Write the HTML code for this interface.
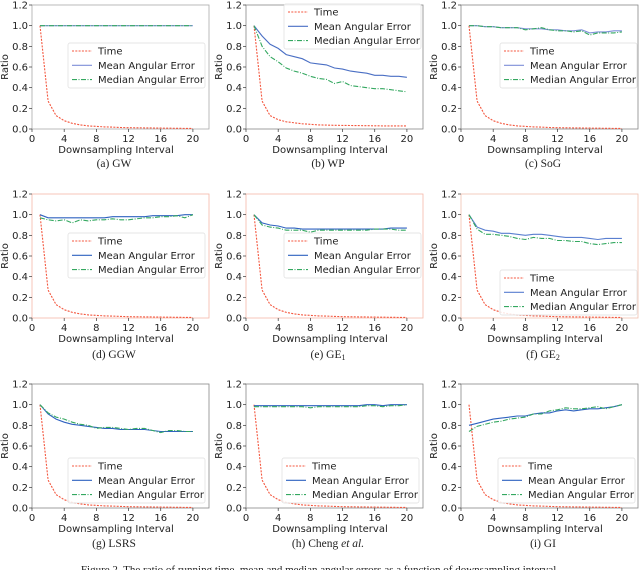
<!DOCTYPE html>
<html><head><meta charset="utf-8">
<style>
html,body{margin:0;padding:0;background:#fff;}
svg{display:block;}
text{font-family:"DejaVu Sans","Liberation Sans",sans-serif;}
.cap{font-family:"Liberation Serif",serif;}
</style></head>
<body>
<svg id="fig" width="640" height="570" viewBox="0 0 640 570" xmlns="http://www.w3.org/2000/svg"></svg>
<script>
const xs = [1,2,3,4,5,6,7,8,9,10,11,12,13,14,15,16,17,18,19,20];
const xTicks = [0,4,8,12,16,20];
const yTicks = [0.0,0.2,0.4,0.6,0.8,1.0,1.2];
const legendLabels = ["Time","Mean Angular Error","Median Angular Error"];
const panelNames = ["GW","WP","SoG","GGW","GE1","GE2","LSRS","Cheng","GI"];
const timeA = [1,0.27,0.13,0.08,0.055,0.04,0.03,0.025,0.02,0.018,0.015,0.013,0.012,0.011,0.01,0.009,0.008,0.007,0.006,0.005];
const timeB = [1,0.27,0.13,0.09,0.07,0.06,0.05,0.045,0.04,0.038,0.036,0.035,0.034,0.033,0.032,0.031,0.03,0.03,0.03,0.03];
const meanA = [1,1,1,1,1,1,1,1,1,1,1,1,1,1,1,1,1,1,1,1];
const medA  = [1,1,1,1,1,1,1,1,1,1,1,1,1,1,1,1,1,1,1,1];
const meanB = [1,0.9,0.82,0.78,0.72,0.7,0.68,0.64,0.63,0.62,0.59,0.58,0.56,0.55,0.54,0.52,0.52,0.51,0.51,0.5];
const medB  = [1,0.8,0.7,0.65,0.59,0.56,0.54,0.51,0.49,0.48,0.44,0.46,0.42,0.41,0.4,0.39,0.39,0.38,0.37,0.36];
const meanC = [1,1,0.99,0.99,0.98,0.98,0.98,0.97,0.97,0.97,0.96,0.96,0.95,0.95,0.96,0.93,0.94,0.94,0.95,0.95];
const medC  = [1,1,0.99,0.99,0.98,0.98,0.98,0.96,0.97,0.98,0.96,0.95,0.95,0.94,0.95,0.91,0.93,0.93,0.93,0.94];
const meanD = [1,0.97,0.97,0.97,0.97,0.97,0.97,0.97,0.97,0.98,0.98,0.98,0.98,0.98,0.99,0.99,0.99,0.99,1,1];
const medD  = [0.97,0.95,0.94,0.95,0.92,0.95,0.94,0.95,0.95,0.96,0.95,0.95,0.96,0.97,0.97,0.98,0.98,0.99,0.97,1];
const meanE = [1,0.92,0.9,0.89,0.87,0.87,0.86,0.86,0.86,0.86,0.86,0.86,0.86,0.86,0.86,0.86,0.86,0.87,0.87,0.87];
const medE  = [1,0.9,0.88,0.87,0.85,0.85,0.85,0.83,0.85,0.85,0.85,0.85,0.85,0.85,0.85,0.86,0.86,0.86,0.85,0.85];
const meanF = [1,0.88,0.85,0.84,0.82,0.82,0.81,0.8,0.81,0.81,0.8,0.79,0.78,0.78,0.78,0.77,0.76,0.77,0.77,0.77];
const medF  = [1,0.86,0.81,0.81,0.8,0.79,0.77,0.76,0.78,0.77,0.77,0.75,0.75,0.74,0.74,0.72,0.71,0.72,0.73,0.73];
const meanG = [1,0.91,0.86,0.83,0.81,0.8,0.79,0.78,0.77,0.77,0.76,0.76,0.76,0.76,0.75,0.74,0.74,0.74,0.74,0.74];
const medG  = [1,0.92,0.88,0.86,0.83,0.81,0.8,0.77,0.78,0.78,0.77,0.76,0.77,0.77,0.75,0.73,0.75,0.75,0.74,0.74];
const meanH = [0.99,0.99,0.99,0.99,0.99,0.99,0.99,0.99,0.99,0.99,0.99,0.99,0.99,0.99,1,1,0.99,1,1,1];
const medH  = [0.98,0.98,0.98,0.98,0.98,0.98,0.98,0.97,0.98,0.98,0.98,0.98,0.98,0.98,0.99,0.99,0.98,0.99,0.99,1];
const meanI = [0.8,0.82,0.84,0.86,0.87,0.88,0.89,0.89,0.91,0.92,0.92,0.94,0.95,0.94,0.95,0.96,0.96,0.97,0.98,1];
const medI  = [0.74,0.79,0.81,0.83,0.84,0.86,0.87,0.88,0.91,0.91,0.94,0.95,0.97,0.96,0.96,0.97,0.98,0.96,0.98,1];

const NS = "http://www.w3.org/2000/svg";
const svg = document.getElementById("fig");
function mk(tag, attrs, parent){ const e=document.createElementNS(NS,tag); for(const k in attrs) e.setAttribute(k,attrs[k]); (parent||svg).appendChild(e); return e; }

const cols=[32,246,461], rows=[5,194,384], W=177, H=124;
const capYs=[167,358,547];
const panels = [
 {t:timeA,m:meanA,d:medA,cap:"(a)  GW",leg:[68,43],frame:"#aaa",blue:"#7f8fd8"},
 {t:timeB,m:meanB,d:medB,cap:"(b)  WP",leg:[284,4],frame:"#888",blue:"#4a6fc4"},
 {t:timeA,m:meanC,d:medC,cap:"(c)  SoG",leg:[500,43],frame:"#888",blue:"#7f8fd8"},
 {t:timeA,m:meanD,d:medD,cap:"(d)  GGW",leg:[68,233],frame:"#f5b8a8",blue:"#2f62c0"},
 {t:timeA,m:meanE,d:medE,cap:"(e)  GE",sub:"1",leg:[284,233],frame:"#f5b8a8",blue:"#2f62c0"},
 {t:timeA,m:meanF,d:medF,cap:"(f)  GE",sub:"2",leg:[500,270],frame:"#f0c0b0",blue:"#5a7fd0"},
 {t:timeA,m:meanG,d:medG,cap:"(g)  LSRS",leg:[68,458],frame:"#888",blue:"#2f62c0"},
 {t:timeA,m:meanH,d:medH,cap:"(h)  Cheng ",it:"et al.",leg:[282,458],frame:"#888",blue:"#2f62c0"},
 {t:timeA,m:meanI,d:medI,cap:"(i)  GI",leg:[498,458],frame:"#888",blue:"#2f62c0"}
];

panels.forEach((p,i)=>{
  const L=cols[i%3], T=rows[Math.floor(i/3)];
  const X=v=>L+v*W/22, Y=v=>T+H-v*H/1.2;
  const g=mk("g",{});
  
  
  const fr=mk("rect",{x:L,y:T,width:W,height:H,fill:"none",stroke:p.frame,"stroke-width":0.8},g);
  
  
  yTicks.forEach(v=>{
    mk("line",{x1:L-3,x2:L,y1:Y(v),y2:Y(v),stroke:"#333","stroke-width":0.7},g);
    const t=mk("text",{x:L-4,y:Y(v)+3.5,"font-size":10,"text-anchor":"end",fill:"#222"},g);
    t.textContent=v.toFixed(1);
    
    
  });
  xTicks.forEach(v=>{
    mk("line",{x1:X(v),x2:X(v),y1:T+H,y2:T+H+3,stroke:"#333","stroke-width":0.7},g);
    const t=mk("text",{x:X(v),y:T+H+13,"font-size":10,"text-anchor":"middle",fill:"#222"},g);
    t.textContent=v;
    
    
  });
  const yl=mk("text",{x:0,y:0,"font-size":10,"text-anchor":"middle",fill:"#222",transform:`translate(${L-24},${T+H/2}) rotate(-90)`},g);
  yl.textContent="Ratio";
  
  
  const xl=mk("text",{x:L+84,y:T+H+24,"font-size":10,"text-anchor":"middle",fill:"#222"},g);
  xl.textContent="Downsampling Interval";
  
  
  const pts=a=>a.map((v,j)=>X(xs[j]).toFixed(1)+","+Y(v).toFixed(1)).join(" ");
  const styles=[
    {a:p.t,stroke:"#f4573f",dash:"2,1.3",name:"time-line"},
    {a:p.m,stroke:p.blue,dash:"",name:"mean-error-line"},
    {a:p.d,stroke:"#34a860",dash:"5,1.5,1,1.5",name:"median-error-line"}
  ];
  styles.forEach(s=>{
    const pl=mk("polyline",{points:pts(s.a),fill:"none",stroke:s.stroke,"stroke-width":1.1,"stroke-dasharray":s.dash},g);
    
    
  });
  const [lx,ly]=p.leg;
  const lg=mk("g",{},g);
  
  
  mk("rect",{x:lx,y:ly,width:137,height:45,rx:2,fill:"#fff","fill-opacity":0.85,stroke:"#ddd","stroke-width":0.7},lg);
  legendLabels.forEach((lab,k)=>{
    const yy=ly+8+k*14.3;
    mk("line",{x1:lx+4,x2:lx+24,y1:yy,y2:yy,stroke:styles[k].stroke,"stroke-width":1.1,"stroke-dasharray":styles[k].dash},lg);
    const t=mk("text",{x:lx+30,y:yy+3.5,"font-size":10,fill:"#222"},lg);
    t.textContent=lab;
    
    
  });
  const capY=capYs[Math.floor(i/3)];
  const c=mk("text",{x:L+82,y:capY,"font-size":11.5,"text-anchor":"middle",fill:"#222",class:"cap"},g);
  
  
  c.appendChild(document.createTextNode(p.cap));
  if(p.sub){const s=mk("tspan",{"font-size":8,dy:2},c); s.textContent=p.sub;}
  if(p.it){const s=mk("tspan",{"font-style":"italic"},c); s.textContent=p.it;}
});
const fc=mk("text",{x:320,y:573,"font-size":11,"text-anchor":"middle",fill:"#222",class:"cap"});
fc.textContent="Figure 2. The ratio of running time, mean and median angular errors as a function of downsampling interval.";


</script>
</body></html>
